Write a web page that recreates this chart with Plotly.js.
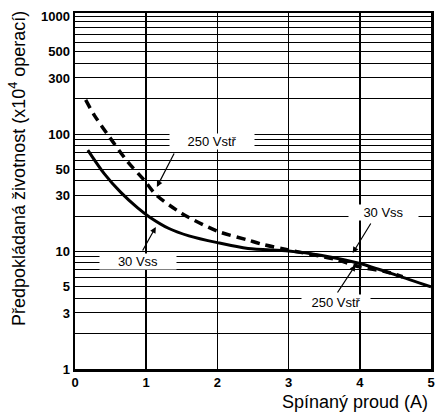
<!DOCTYPE html>
<html>
<head>
<meta charset="utf-8">
<script src="https://cdn.plot.ly/plotly-3.0.1.min.js"></script>
<style>html,body{margin:0;padding:0;background:#fff;}#chart{width:436px;height:418px;}</style>
</head>
<body>
<div id="chart"></div>
<script>
// Data
const currentVss = [0.18, 0.41, 0.64, 0.88, 1.04, 1.32, 1.6, 2.0, 2.43, 3.0, 3.45, 4.0, 4.51, 5.0];
const lifeVss    = [73, 46, 32, 23.5, 19.8, 15.7, 13.6, 11.9, 10.6, 10.1, 9.3, 7.9, 6.3, 5.0];
const currentVac = [0.15, 0.27, 0.48, 0.74, 0.97, 1.14, 1.5, 2.0, 2.43, 2.66, 3.0, 3.68, 4.0, 4.38, 4.6];
const lifeVac    = [195, 145, 95, 58, 40.6, 30.3, 21.1, 14.9, 12.5, 11.4, 10.3, 8.5, 7.4, 6.7, 6.1];
const xTicks = [0, 1, 2, 3, 4, 5];
const yTicks = [1, 3, 5, 10, 30, 50, 100, 300, 500, 1000];
const labelVss = "30 Vss";
const labelVac = "250 Vstř";
const xTitle = "Spínaný proud (A)";
const yTitle = "Předpokládaná životnost (x10<sup>4</sup> operací)";

const font = "Liberation Sans, Arial, sans-serif";

const traces = [
  {x: currentVss, y: lifeVss, name: labelVss, mode: "lines", line: {color: "#000", width: 3, shape: "spline", smoothing: 0.8}},
  {x: currentVac, y: lifeVac, name: labelVac, mode: "lines", line: {color: "#000", width: 3.5, dash: "9px,6px", shape: "spline", smoothing: 0.8}}
];

function label(text, x, ly, w) {
  return {text: text, x: x, y: ly, xref: "x", yref: "y", showarrow: false, bgcolor: "#fff", width: w, height: 13,
          font: {family: font, size: 13, color: "#000"}, xanchor: "center", yanchor: "middle"};
}
function arrow(x, ly, ax, ay) {
  return {text: "", x: x, y: ly, xref: "x", yref: "y", showarrow: true, ax: ax, ay: ay,
          arrowhead: 2, arrowsize: 1, arrowwidth: 1.2, arrowcolor: "#000", font: {size: 1}};
}

const annotations = [
  label(labelVac, 1.92, 1.940, 82),
  arrow(1.15, 1.549, 18, -35),
  label(labelVss, 0.89, 0.911, 74),
  arrow(1.135, 1.209, -14, 25),
  label(labelVss, 4.33, 1.328, 67),
  arrow(3.9, 0.987, 19, -31),
  label(labelVac, 3.66, 0.562, 66),
  arrow(3.94, 0.885, -19, 29),
  {text: yTitle, xref: "paper", yref: "paper", x: -0.163, y: 0.5646, textangle: -90, showarrow: false,
   xanchor: "center", yanchor: "middle", font: {family: font, size: 18, color: "#000"}},
  {text: xTitle, xref: "paper", yref: "paper", x: 0.997, y: -0.0927, showarrow: false,
   xanchor: "right", yanchor: "middle", font: {family: font, size: 18, color: "#000"}}
];

const layout = {
  width: 436, height: 418,
  margin: {l: 75, r: 5, t: 13, b: 49, pad: 0},
  paper_bgcolor: "#fff", plot_bgcolor: "#fff",
  showlegend: false,
  xaxis: {
    range: [0, 5], tickvals: xTicks, ticktext: xTicks.map(String),
    showgrid: true, gridcolor: "#000", gridwidth: 1.5, zeroline: false,
    showline: true, linecolor: "#000", linewidth: 2.5, mirror: true, ticks: "",
    ticklabeloverflow: "allow",
    tickfont: {family: font, size: 13, color: "#000", weight: "bold"}
  },
  yaxis: {
    type: "log", range: [0, 3.03], tickvals: yTicks, ticktext: yTicks.map(String),
    showgrid: true, gridcolor: "#000", gridwidth: 1, zeroline: false,
    showline: true, linecolor: "#000", linewidth: 2.5, mirror: true, ticks: "",
    tickfont: {family: font, size: 13, color: "#000", weight: "bold"},
    minor: {dtick: "D1", showgrid: true, gridcolor: "#000", gridwidth: 1, ticks: ""}
  },
  annotations: annotations
};

Plotly.newPlot("chart", traces, layout, {displayModeBar: false, staticPlot: true});
</script>
</body>
</html>
